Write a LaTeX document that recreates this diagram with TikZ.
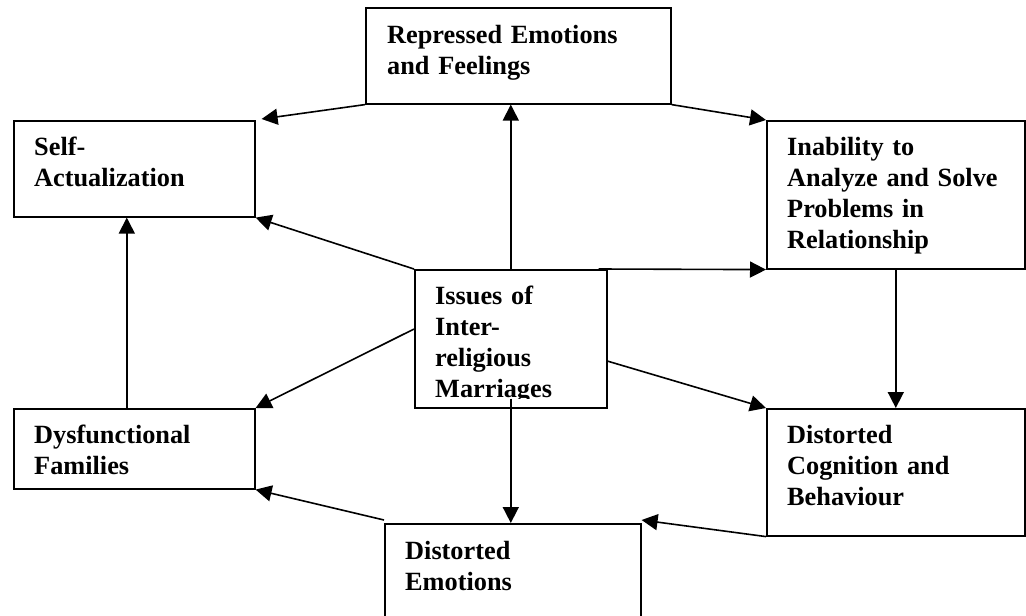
\documentclass[tikz,border=0pt]{standalone}
\usepackage{fontspec}
\setmainfont{Liberation Serif}
\usetikzlibrary{arrows.meta,calc}
\begin{document}
\begin{tikzpicture}[x=1pt,y=-1pt,
  box/.style={draw, line width=1.6pt, inner sep=0pt, anchor=north west},
  lbl/.style={anchor=base west, inner sep=0pt, text width=250pt, align=left,
              font=\bfseries\fontsize{26.3}{31}\selectfont},
  conn/.style={line width=1.6pt, -{Triangle[length=16pt,width=16pt]}}]
\useasboundingbox (0,0) rectangle (1026,616);
\clip (0,0) rectangle (1026,616);
% boxes
\node[box, minimum width=305pt, minimum height=96pt]  (rep)  at (365,7)   {};
\node[box, minimum width=241pt, minimum height=96pt]  (self) at (13,120)  {};
\node[box, minimum width=258pt, minimum height=148pt] (inab) at (766,120) {};
\node[box, minimum width=192pt, minimum height=138pt] (iss)  at (414,269) {};
\node[box, minimum width=258pt, minimum height=127pt] (dcog) at (766,408) {};
\node[box, minimum width=241pt, minimum height=80pt]  (dys)  at (13,408)  {};
\node[box, minimum width=256pt, minimum height=110pt] (demo) at (384,523) {};
% texts
\node[lbl] (trep)  at ([xshift=22pt,yshift=-36pt]rep.north west)  {Repressed Emotions\\and Feelings};
\node[lbl] (tself) at ([xshift=21pt,yshift=-35pt]self.north west) {Self-\\Actualization};
\node[lbl] (tinab) at ([xshift=21pt,yshift=-35pt]inab.north west) {Inability to\\Analyze and Solve\\Problems in\\Relationship};
\begin{scope}
\clip (iss.north west) rectangle ([yshift=10pt]iss.south east);
\node[lbl] (tiss)  at ([xshift=21pt,yshift=-35pt]iss.north west)  {Issues of\\Inter-\\religious\\Marriages};
\end{scope}
\node[lbl] (tdcog) at ([xshift=21pt,yshift=-35pt]dcog.north west) {Distorted\\Cognition and\\Behaviour};
\node[lbl] (tdys)  at ([xshift=21pt,yshift=-35pt]dys.north west)  {Dysfunctional\\Families};
\node[lbl] (tdemo) at ([xshift=21pt,yshift=-36pt]demo.north west) {Distorted\\Emotions};
% connectors
\draw[conn] (iss.north) -- (iss.north |- rep.south);
\draw[conn] (rep.south west) -- ([xshift=6pt,yshift=1pt]self.north east);
\draw[conn] (rep.south east) -- (inab.north west);
\draw[conn] (iss.north west) -- (self.south east);
\draw[conn] ([xshift=-9pt]iss.north east) -- (inab.south west);
\draw[conn] ($(iss.north west)!0.43!(iss.south west)$) -- (dys.north east);
\draw[conn] ($(iss.north east)!0.66!(iss.south east)$) -- (dcog.north west);
\draw[conn] ([yshift=10pt]iss.south) -- (iss.south |- demo.north);
\draw[conn] (inab.south) -- (dcog.north);
\draw[conn] (dcog.south west) -- ([yshift=3pt]demo.north east);
\draw[conn] ([yshift=3pt]demo.north west) -- (dys.south east);
\draw[conn] ([xshift=-7.5pt]dys.north) -- ([xshift=-7.5pt]self.south);
\end{tikzpicture}
\end{document}
